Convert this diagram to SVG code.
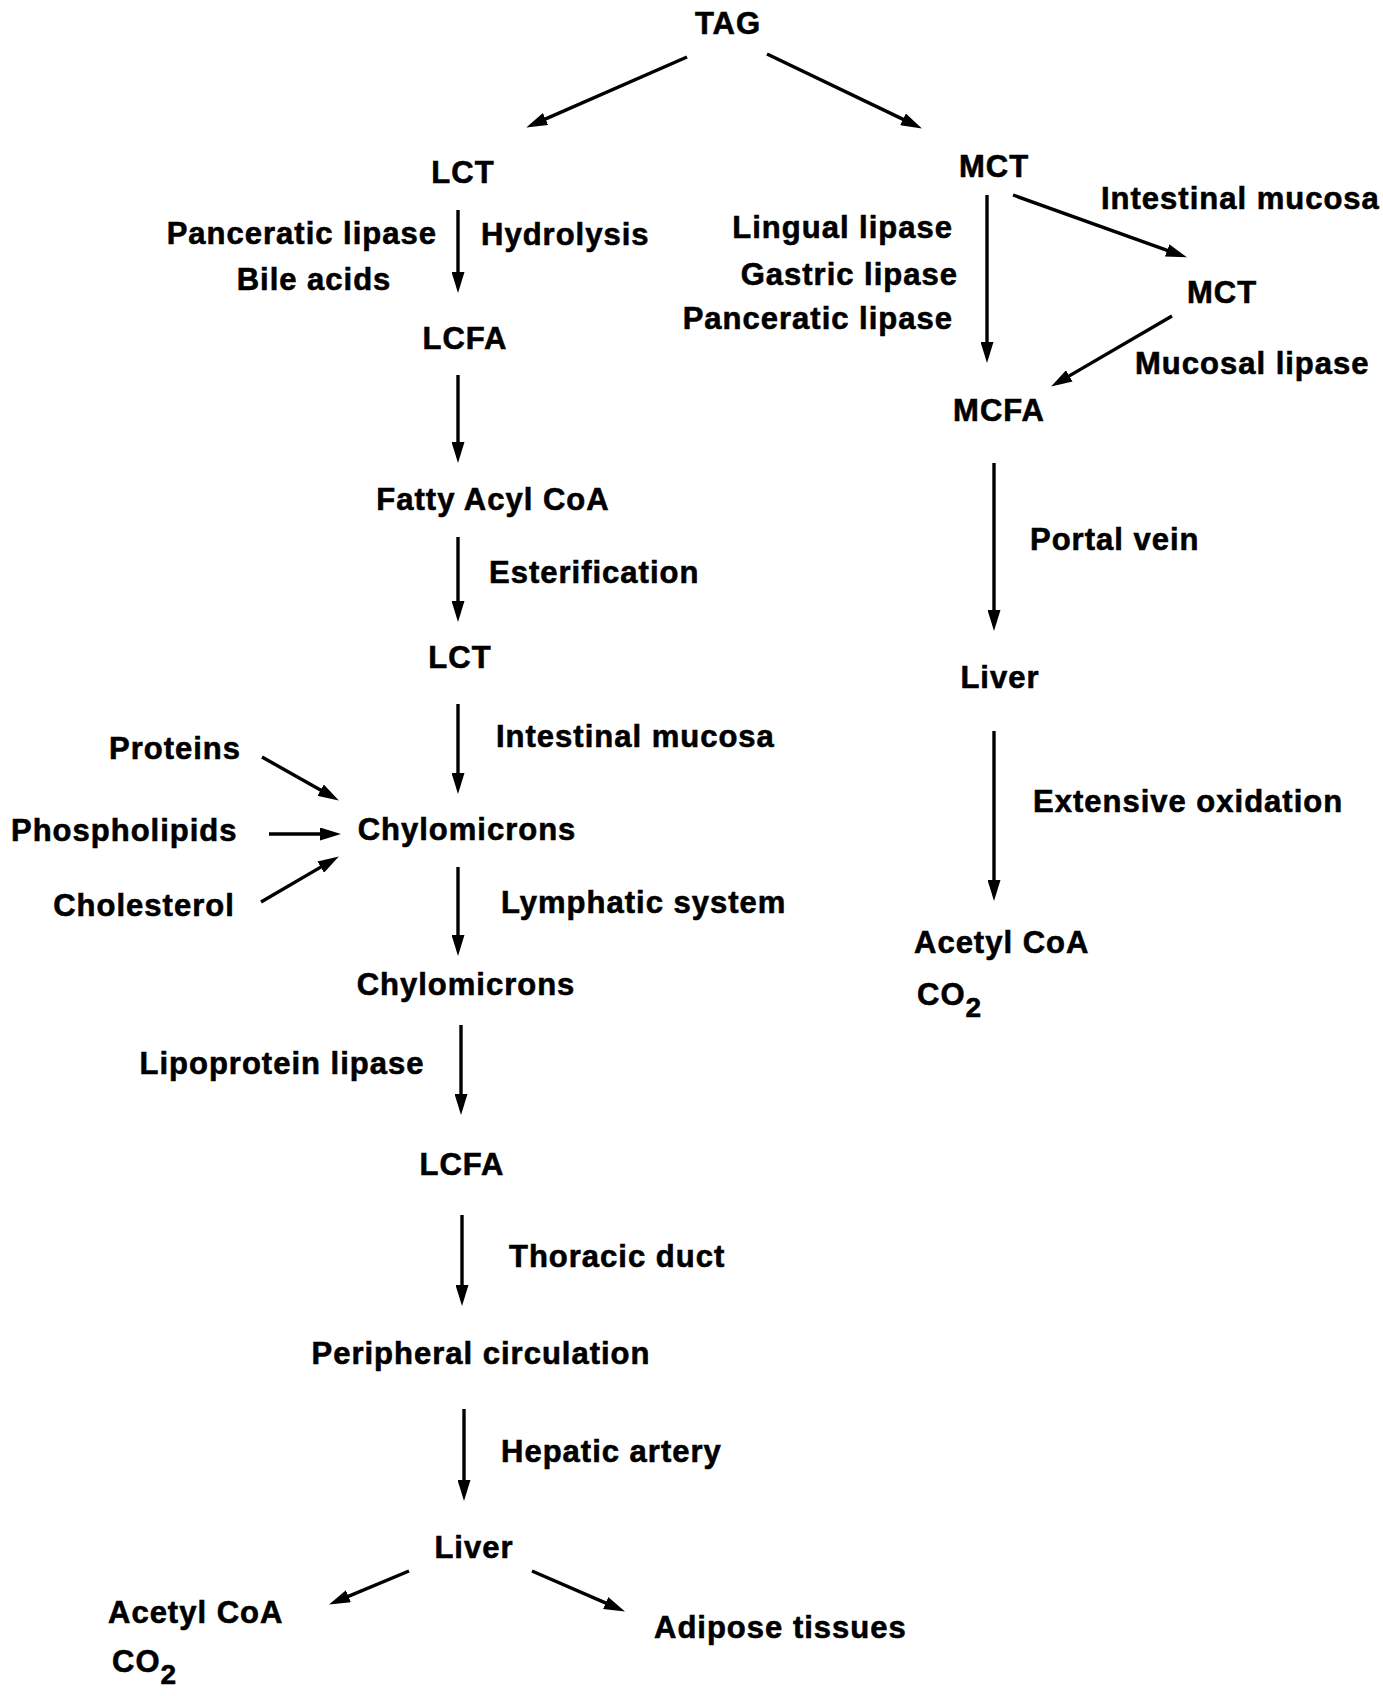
<svg xmlns="http://www.w3.org/2000/svg" width="1383" height="1696" viewBox="0 0 1383 1696">
  <style>
    text { font-family: "Liberation Sans", Arial, sans-serif; font-weight: bold; font-size: 31px; fill: #000; stroke: #000; stroke-width: 0.6px; letter-spacing: 1px; }
    .m { text-anchor: middle; }
    .e { text-anchor: end; }
    .sub { font-size: 28px; }
    .c line { stroke: #000; stroke-width: 3.4; marker-end: url(#ah); }
  </style>
  <defs>
    <marker id="ah" viewBox="0 0 21 13" markerWidth="21" markerHeight="13" markerUnits="userSpaceOnUse" refX="6" refY="6.5" orient="auto">
      <path d="M0,0 L21,6.5 L0,13 z" fill="#000"/>
    </marker>
  </defs>
  <rect width="1383" height="1696" fill="#fff"/>

  <!-- connectors -->
  <g id="connectors" class="c">
    <line x1="687" y1="57" x2="540" y2="121.4"/>
    <line x1="767" y1="54" x2="908.4" y2="121.9"/>
    <line x1="458" y1="210" x2="458" y2="278"/>
    <line x1="458" y1="375" x2="458" y2="448"/>
    <line x1="458" y1="537" x2="458" y2="607"/>
    <line x1="458" y1="704" x2="458" y2="779"/>
    <line x1="262" y1="757" x2="325.8" y2="793.1"/>
    <line x1="269" y1="834" x2="326" y2="834"/>
    <line x1="261" y1="902" x2="325.9" y2="864.1"/>
    <line x1="458" y1="867" x2="458" y2="941"/>
    <line x1="461" y1="1025" x2="461" y2="1100"/>
    <line x1="462" y1="1215" x2="462" y2="1291"/>
    <line x1="464" y1="1409" x2="464" y2="1486"/>
    <line x1="409" y1="1571" x2="342.9" y2="1598.6"/>
    <line x1="532" y1="1571" x2="611.2" y2="1605.4"/>
    <line x1="987" y1="195" x2="987" y2="348"/>
    <line x1="1013" y1="195" x2="1172.8" y2="252.3"/>
    <line x1="1172" y1="316" x2="1064.1" y2="378.9"/>
    <line x1="994" y1="463" x2="994" y2="616"/>
    <line x1="994" y1="731" x2="994" y2="886"/>
  </g>

  <!-- nodes: long-chain branch -->
  <g id="tag"><text class="m" x="728" y="34">TAG</text></g>
  <g id="lct"><text class="m" x="463" y="183">LCT</text></g>
  <g id="lct-hydrolysis">
    <text class="e" x="437" y="244">Panceratic lipase</text>
    <text class="m" x="314" y="290">Bile acids</text>
    <text x="481" y="245">Hydrolysis</text>
  </g>
  <g id="lcfa"><text class="m" x="465" y="349">LCFA</text></g>
  <g id="fatty-acyl-coa"><text class="m" x="493" y="510">Fatty Acyl CoA</text></g>
  <g id="esterification"><text x="489" y="583">Esterification</text></g>
  <g id="lct-2"><text class="m" x="460" y="668">LCT</text></g>
  <g id="intestinal-mucosa-l"><text x="496" y="747">Intestinal mucosa</text></g>
  <g id="proteins"><text class="m" x="175" y="759">Proteins</text></g>
  <g id="phospholipids"><text x="11" y="841">Phospholipids</text></g>
  <g id="cholesterol"><text class="m" x="144" y="916">Cholesterol</text></g>
  <g id="chylomicrons"><text class="m" x="467" y="840">Chylomicrons</text></g>
  <g id="lymphatic"><text x="501" y="913">Lymphatic system</text></g>
  <g id="chylomicrons-2"><text class="m" x="466" y="995">Chylomicrons</text></g>
  <g id="lipoprotein-lipase"><text class="m" x="282" y="1074">Lipoprotein lipase</text></g>
  <g id="lcfa-2"><text class="m" x="462" y="1175">LCFA</text></g>
  <g id="thoracic-duct"><text x="509" y="1267">Thoracic duct</text></g>
  <g id="peripheral"><text class="m" x="481" y="1364">Peripheral circulation</text></g>
  <g id="hepatic-artery"><text x="501" y="1462">Hepatic artery</text></g>
  <g id="liver"><text class="m" x="474" y="1558">Liver</text></g>
  <g id="acetyl-coa">
    <text x="108" y="1623">Acetyl CoA</text>
    <text x="112" y="1672">CO<tspan class="sub" dy="12">2</tspan></text>
  </g>
  <g id="adipose"><text x="654" y="1638">Adipose tissues</text></g>

  <!-- nodes: medium-chain branch -->
  <g id="mct"><text class="m" x="994" y="177">MCT</text></g>
  <g id="intestinal-mucosa-r"><text x="1101" y="209">Intestinal mucosa</text></g>
  <g id="lipases">
    <text class="e" x="953" y="238">Lingual lipase</text>
    <text class="e" x="958" y="285">Gastric lipase</text>
    <text class="e" x="953" y="329">Panceratic lipase</text>
  </g>
  <g id="mct-2"><text class="m" x="1222" y="303">MCT</text></g>
  <g id="mucosal-lipase"><text x="1135" y="374">Mucosal lipase</text></g>
  <g id="mcfa"><text class="m" x="999" y="421">MCFA</text></g>
  <g id="portal-vein"><text x="1030" y="550">Portal vein</text></g>
  <g id="liver-r"><text class="m" x="1000" y="688">Liver</text></g>
  <g id="oxidation"><text x="1033" y="812">Extensive oxidation</text></g>
  <g id="acetyl-coa-r">
    <text x="914" y="953">Acetyl CoA</text>
    <text x="917" y="1005">CO<tspan class="sub" dy="12">2</tspan></text>
  </g>
</svg>
